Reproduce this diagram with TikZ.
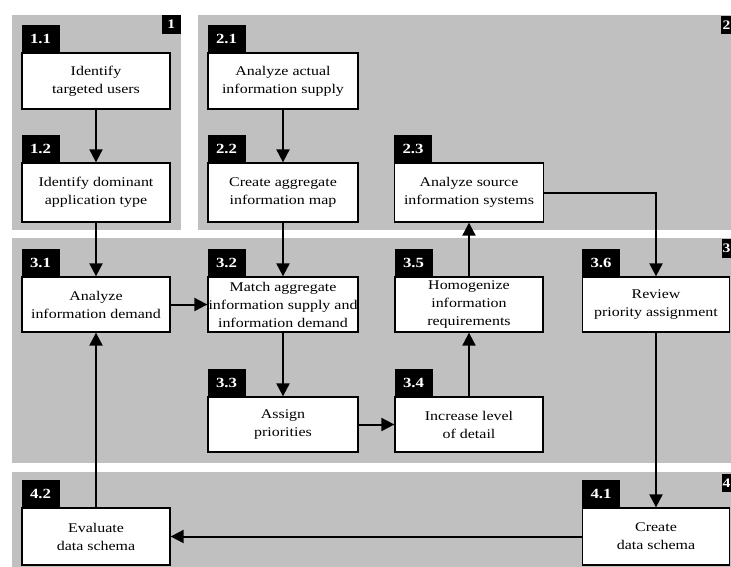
\documentclass[tikz,border=0pt]{standalone}
\usepackage{fontspec}
\setmainfont{Liberation Serif}[FakeStretch=1.2]
\usetikzlibrary{arrows.meta}
\definecolor{panelgray}{RGB}{192,192,192}
\begin{document}
\begin{tikzpicture}[x=1pt,y=-1pt,
  plabel/.style={fill=black, text=white, font=\bfseries\fontsize{13}{13}\selectfont,
    minimum size=19pt, inner sep=0pt, anchor=north east},
  pdigit/.style={text=white, font=\bfseries\fontsize{13}{13}\selectfont, inner sep=0pt},
  stepbox/.style={draw=black, fill=white, line width=1.3pt, align=center, inner sep=0pt,
    font=\fontsize{13.3}{18}\selectfont},
  tab/.style={fill=black, text=white, font=\bfseries\fontsize{14}{14}\selectfont,
    minimum width=38pt, minimum height=27pt, inner sep=0pt, anchor=south west},
  flow/.style={line width=2pt, -{Triangle[length=13pt,width=13pt]}}
]
\useasboundingbox (0,0) rectangle (731,566);

% phase panels
\fill[panelgray] (12,15) rectangle (181,230);
\fill[panelgray] (198,15) rectangle (741,230);
\fill[panelgray] (12,238) rectangle (741,463);
\fill[panelgray] (12,472) rectangle (741,570);

% phase numbers in the top right corners
\node[plabel] (p1) at (181,15) {1};
\fill[black] (721,16) rectangle (741,34);
\node[pdigit] (p2) at (726.5,25) {2};
\fill[black] (722,239) rectangle (741,258);
\node[pdigit] (p3) at (726.5,248.5) {3};
\fill[black] (722,474) rectangle (741,492);
\node[pdigit] (p4) at (726.5,483) {4};

% process steps
\node[stepbox, minimum width=148pt, minimum height=56pt] (n11) at (96,81) {Identify\\targeted users};
\node[stepbox, minimum width=148pt, minimum height=59pt] (n12) at (96,192.5) {Identify dominant\\application type};
\node[stepbox, minimum width=150pt, minimum height=56pt] (n21) at (283,81) {Analyze actual\\information supply};
\node[stepbox, minimum width=150pt, minimum height=59pt] (n22) at (283,192.5) {Create aggregate\\information map};
\node[stepbox, minimum width=149pt, minimum height=59pt] (n23) at (469,192.5) {Analyze source\\information systems};
\node[stepbox, minimum width=148pt, minimum height=55pt] (n31) at (96,304.5) {Analyze\\information demand};
\node[stepbox, minimum width=150pt, minimum height=55pt] (n32) at (283,304.5) {Match aggregate\\information supply and\\information demand};
\node[stepbox, minimum width=150pt, minimum height=55pt] (n33) at (283,424.5) {Assign\\priorities};
\node[stepbox, minimum width=148pt, minimum height=55pt] (n34) at (469,424.5) {Increase level\\of detail};
\node[stepbox, minimum width=148pt, minimum height=55pt] (n35) at (469,304.5) {Homogenize\\information\\requirements};
\node[stepbox, minimum width=147pt, minimum height=55pt] (n36) at (656,304.5) {Review\\priority assignment};
\node[stepbox, minimum width=147pt, minimum height=57pt] (n41) at (656,536.5) {Create\\data schema};
\node[stepbox, minimum width=148pt, minimum height=57pt] (n42) at (96,536.5) {Evaluate\\data schema};

% step number tabs
\foreach \n/\t in {n11/1.1, n12/1.2, n21/2.1, n22/2.2, n23/2.3, n31/3.1, n32/3.2,
                   n33/3.3, n34/3.4, n35/3.5, n36/3.6, n41/4.1, n42/4.2}
  \node[tab] (t\n) at (\n.north west) {\t};

% flow between steps
\draw[flow] (n11) -- (n12);
\draw[flow] (n12) -- (n31);
\draw[flow] (n21) -- (n22);
\draw[flow] (n22) -- (n32);
\draw[flow] (n31) -- (n32);
\draw[flow] (n32) -- (n33);
\draw[flow] (n33) -- (n34);
\draw[flow] (n34) -- (n35);
\draw[flow] (n35) -- (n23);
\draw[flow] (n23.east) -| (n36.north);
\draw[flow] (n36) -- (n41);
\draw[flow] (n41) -- (n42);
\draw[flow] (n42) -- (n31);
\end{tikzpicture}
\end{document}
